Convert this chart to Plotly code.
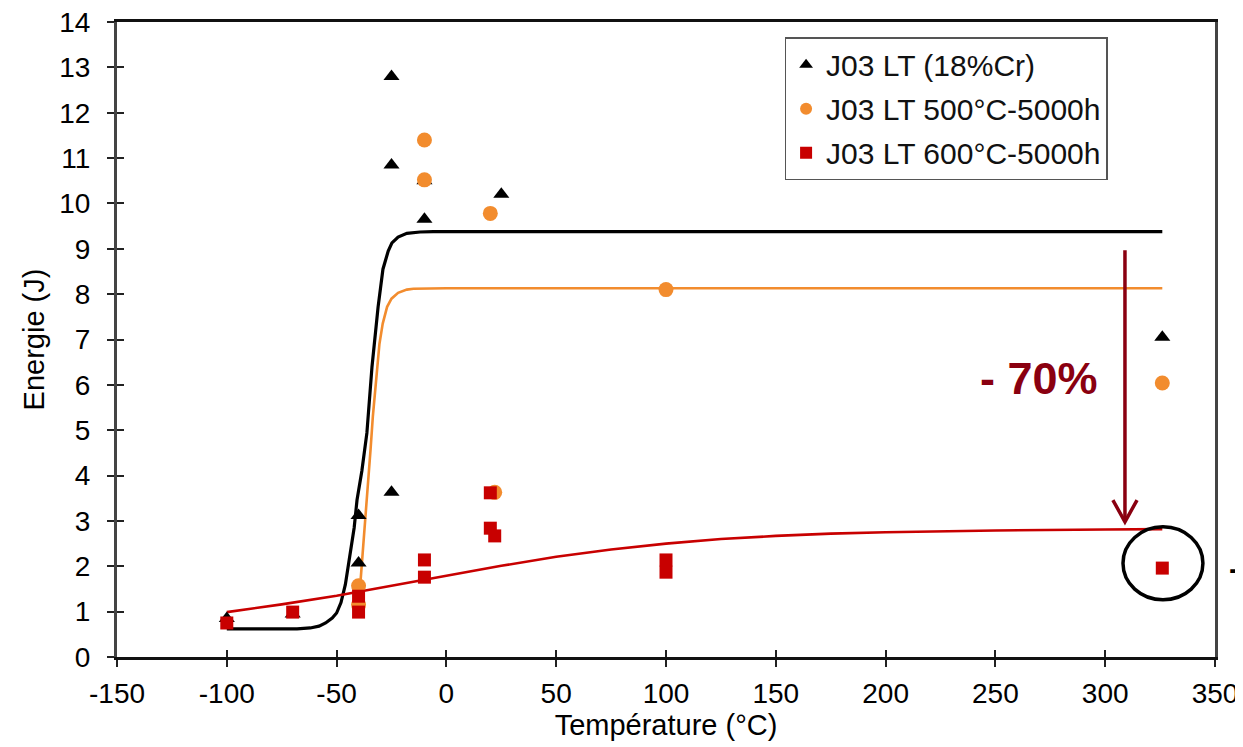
import plotly.graph_objects as go

# ---- data ----
tri_T = [-100, -70, -40, -40, -25, -25, -25, -10, -10, 25, 326]
tri_E = [0.85, 0.95, 3.12, 2.07, 3.63, 10.85, 12.8, 9.65, 10.5, 10.2, 7.05]

cir_T = [-40, -40, -10, -10, 20, 22, 100, 326]
cir_E = [1.57, 1.15, 11.4, 10.52, 9.78, 3.63, 8.1, 6.04]

sq_T = [-100, -70, -40, -40, -10, -10, 20, 20, 22, 100, 100, 326]
sq_E = [0.75, 0.99, 1.34, 0.99, 2.14, 1.76, 3.62, 2.84, 2.67, 2.14, 1.87, 1.96]

blk_T = [-100, -80, -68, -62, -58, -55, -52, -50, -48, -46, -44, -42, -40.7, -38.5,
         -36.2, -33.9, -31.1, -28.9, -26.5, -24.8, -22, -18, -12, -6, 100, 200, 326]
blk_E = [0.62, 0.62, 0.62, 0.64, 0.68, 0.75, 0.86, 0.97, 1.2, 1.6, 2.2, 2.85, 3.46, 4.1,
         4.94, 6.39, 7.72, 8.55, 8.95, 9.13, 9.26, 9.34, 9.37, 9.38, 9.38, 9.38, 9.38]

org_T = [-40, -39, -38.2, -37, -36, -34.5, -33.5, -32, -30.5, -29, -27, -25,
         -22, -18, -15, 0, 100, 326]
org_E = [1.1, 1.7, 2.3, 3.0, 3.6, 4.6, 5.3, 6.2, 6.9, 7.35, 7.72, 7.9,
         8.03, 8.1, 8.12, 8.13, 8.13, 8.13]

red_T = [-100, -75, -50, -25, 0, 25, 50, 75, 100, 125, 150, 175, 200, 250, 300, 326]
red_E = [0.99, 1.16, 1.35, 1.57, 1.80, 2.01, 2.21, 2.37, 2.50, 2.60, 2.67, 2.72, 2.75, 2.79, 2.81, 2.82]

x_ticks = list(range(-150, 351, 50))
y_ticks = list(range(0, 15))

names = ["J03 LT (18%Cr)", "J03 LT 500°C-5000h", "J03 LT 600°C-5000h"]

BLACK = "#000000"
ORANGE = "#F28C2E"
RED = "#C80000"
DARKRED = "#8A0010"
FONT = "Liberation Sans, Arial, sans-serif"

fig = go.Figure()

# fitted curves
fig.add_trace(go.Scatter(x=blk_T, y=blk_E, mode="lines", line=dict(color=BLACK, width=3.2),
                         showlegend=False, hoverinfo="skip"))
fig.add_trace(go.Scatter(x=org_T, y=org_E, mode="lines", line=dict(color=ORANGE, width=2.6),
                         showlegend=False, hoverinfo="skip"))
fig.add_trace(go.Scatter(x=red_T, y=red_E, mode="lines", line=dict(color=RED, width=2.6),
                         showlegend=False, hoverinfo="skip"))

# markers
fig.add_trace(go.Scatter(x=tri_T, y=tri_E, mode="markers", name=names[0], legendgroup="a",
                         marker=dict(symbol="triangle-up", size=14, color=BLACK)))
fig.add_trace(go.Scatter(x=cir_T, y=cir_E, mode="markers", name=names[1], legendgroup="b",
                         marker=dict(symbol="circle", size=15, color=ORANGE)))
fig.add_trace(go.Scatter(x=sq_T, y=sq_E, mode="markers", name=names[2], legendgroup="c",
                         marker=dict(symbol="square", size=13, color=RED),
                         xaxis="x2", yaxis="y2"))

# arrow (-70 %)
arrow_T = 309
arrow_top, arrow_tip = 8.97, 2.98
fig.add_shape(type="line", x0=arrow_T, x1=arrow_T, y0=arrow_top, y1=arrow_tip + 0.05,
              line=dict(color=DARKRED, width=3.5))
fig.add_shape(type="path",
              path=f"M {arrow_T-5.5},{arrow_tip+0.48} L {arrow_T},{arrow_tip} L {arrow_T+5.5},{arrow_tip+0.48}",
              line=dict(color=DARKRED, width=3.5))
fig.add_annotation(x=270, y=6.13, text="<b>- 70%</b>", showarrow=False,
                   font=dict(family=FONT, size=45, color=DARKRED))

# circle around the 326 °C point
fig.add_shape(type="circle", x0=308.1, x1=344.5, y0=1.26, y1=2.87,
              line=dict(color=BLACK, width=3.5))

# clipped dash outside the plot
fig.add_annotation(x=1.0, xref="paper", y=1.97, yref="y", text="<b>-</b>", showarrow=False,
                   font=dict(family=FONT, size=32, color=BLACK), xanchor="left", xshift=12)

axis_common = dict(showgrid=False, zeroline=False, automargin=False)

fig.update_layout(
    width=1235, height=739,
    margin=dict(l=109, r=28, t=14, b=90),
    plot_bgcolor="white", paper_bgcolor="white",
    font=dict(family=FONT, color="#000000"),
    xaxis=dict(range=[-150, 350], tickvals=x_ticks, ticktext=[str(v) for v in x_ticks],
               ticks="outside", ticklen=7, tickwidth=2, ticklabeloverflow="allow",
               tickcolor="#222", showline=True, linecolor="#111", linewidth=3, mirror=True,
               tickfont=dict(size=28, family=FONT), ticklabelstandoff=2,
               title=dict(text="Température (°C)", font=dict(size=29, family=FONT), standoff=0),
               **axis_common),
    yaxis=dict(range=[0, 14], tickvals=y_ticks, ticktext=[str(v) for v in y_ticks],
               ticks="outside", ticklen=7, tickwidth=2, ticklabeloverflow="allow",
               tickcolor="#222", showline=True, linecolor="#444", linewidth=3, mirror=True,
               tickfont=dict(size=28, family=FONT), ticklabelstandoff=11,
               title=dict(text="Energie (J)", font=dict(size=29, family=FONT), standoff=7),
               **axis_common),
    xaxis2=dict(overlaying="x", matches="x", anchor="y2", tickvals=x_ticks, ticks="inside",
                ticklen=7, tickwidth=2, tickcolor="#222", showticklabels=False,
                showline=False, side="bottom", **axis_common),
    yaxis2=dict(overlaying="y", matches="y", anchor="x2", tickvals=y_ticks, ticks="inside",
                ticklen=7, tickwidth=2, tickcolor="#222", showticklabels=False,
                showline=False, side="left", **axis_common),
    legend=dict(x=0.608, y=0.976, xanchor="left", yanchor="top",
                bgcolor="white", bordercolor="#555", borderwidth=1.5,
                font=dict(size=30, family=FONT, color="#111"),
                itemsizing="constant", tracegroupgap=2, traceorder="grouped"),
    showlegend=True,
)

fig.write_html("out.html")
